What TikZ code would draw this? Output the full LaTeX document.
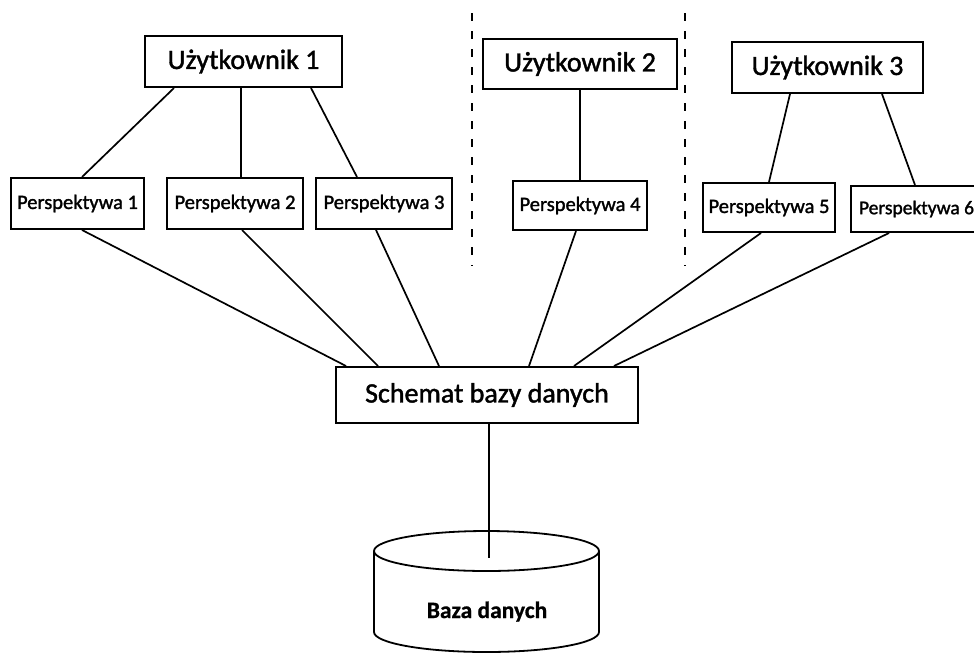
\documentclass[tikz,border=0pt]{standalone}
\usepackage{fontspec}
\setmainfont{Carlito}
% slightly heavier strokes for the box labels
\newfontfamily\labelfont{Carlito}[FakeBold=1.5]
\newfontfamily\labelboldfont{Carlito Bold}[FakeBold=0.8]
\begin{document}
\begin{tikzpicture}[x=1pt,y=-1pt,
  box/.style={draw, line width=2pt, inner sep=0pt, align=center},
  userbox/.style={box, font=\labelfont\fontsize{28}{30}\selectfont},
  viewbox/.style={box, font=\labelfont\fontsize{20.5}{24}\selectfont},
  link/.style={line width=1.7pt},
  divider/.style={line width=1.6pt, dash pattern=on 8pt off 10pt}]
\useasboundingbox (0,0) rectangle (974,654);
\clip (0,0) rectangle (974,654);

% users
\node[userbox, minimum width=197pt, minimum height=51pt] (u1) at (243.5,61.5) {Użytkownik 1};
\node[userbox, minimum width=194pt, minimum height=50pt] (u2) at (580,64) {Użytkownik 2};
\node[userbox, minimum width=191pt, minimum height=51pt] (u3) at (827.5,67.5) {Użytkownik 3};

% views
\node[viewbox, minimum width=133pt, minimum height=51pt] (p1) at (77.5,203.5) {Perspektywa 1};
\node[viewbox, minimum width=136pt, minimum height=51pt] (p2) at (235,203.5) {Perspektywa 2};
\node[viewbox, minimum width=136pt, minimum height=51pt] (p3) at (384,203.5) {Perspektywa 3};
\node[viewbox, minimum width=134pt, minimum height=49pt] (p4) at (580,205.5) {Perspektywa 4};
\node[viewbox, minimum width=132pt, minimum height=49pt] (p5) at (769,207.5) {Perspektywa 5};
\node[viewbox, font=\labelfont\fontsize{19.5}{23}\selectfont, inner xsep=8pt,
      minimum height=46pt, anchor=west] (p6) at (850,209) {Perspektywa 6};

% schema
\node[box, font=\labelfont\fontsize{28}{30}\selectfont, minimum width=302pt, minimum height=56pt] (s) at (487,395) {Schemat bazy danych};

% database cylinder
\draw[line width=1.8pt] (486.5,551) ellipse [x radius=112.5pt, y radius=20pt];
\draw[line width=1.8pt] (374,551) -- (374,632)
  arc[start angle=180, end angle=360, x radius=112.5pt, y radius=20pt] -- (599,551);
\node[font=\labelboldfont\fontsize{23.5}{26}\selectfont, anchor=base] (db) at (487,618) {Baza danych};
\coordinate (dbtop) at (489,558);

% separators between users
\draw[divider] (472,13) coordinate (d1a) -- (472,266) coordinate (d1b);
\draw[divider] (685,13) coordinate (d2a) -- (685,266) coordinate (d2b);

% users to views
\draw[link] ([xshift=30pt]u1.south west) -- ([xshift=72pt]p1.north west);
\draw[link] ([xshift=97pt]u1.south west) -- ([xshift=75pt]p2.north west);
\draw[link] ([xshift=167pt]u1.south west) -- ([xshift=42pt]p3.north west);
\draw[link] (u2.south) -- (p4.north);
\draw[link] ([xshift=59pt]u3.south west) -- ([xshift=67pt]p5.north west);
\draw[link] ([xshift=151pt]u3.south west) -- ([xshift=65pt]p6.north west);

% views to schema
\draw[link] ([xshift=72pt]p1.south west) -- ([xshift=11pt]s.north west);
\draw[link] ([xshift=76pt]p2.south west) -- ([xshift=43pt]s.north west);
\draw[link] ([xshift=61pt]p3.south west) -- ([xshift=104pt]s.north west);
\draw[link] ([xshift=64pt]p4.south west) -- ([xshift=194pt]s.north west);
\draw[link] ([xshift=59pt]p5.south west) -- ([xshift=239pt]s.north west);
\draw[link] ([xshift=39pt]p6.south west) -- ([xshift=279pt]s.north west);

% schema to database
\draw[link] ([xshift=2pt]s.south) -- (dbtop);
\end{tikzpicture}
\end{document}
